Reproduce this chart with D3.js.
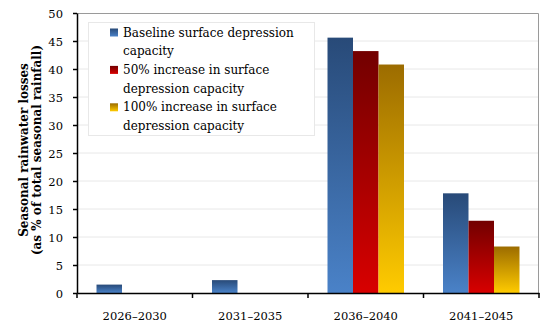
<!DOCTYPE html>
<html>
<head>
<meta charset="utf-8">
<script src="https://cdn.jsdelivr.net/npm/d3@7"></script>
<style>
  body { margin: 0; background: #fff; }
  svg text { font-family: "DejaVu Serif", "Liberation Serif", serif; }
</style>
</head>
<body>
<div id="chart"></div>
<script>
'use strict';

// data
const periods = ['2026–2030', '2031–2035', '2036–2040', '2041–2045'];
const seriesNames = [
  'Baseline surface depression capacity',
  '50% increase in surface depression capacity',
  '100% increase in surface depression capacity'
];
const baseline = [1.5, 2.3, 45.6, 17.8];
const increase50 = [0, 0, 43.2, 12.9];
const increase100 = [0, 0, 40.8, 8.3];
const yTicks = [0, 5, 10, 15, 20, 25, 30, 35, 40, 45, 50];

// legend text broken as in the original
const legendLines = [
  ['Baseline surface depression', 'capacity'],
  ['50% increase in surface', 'depression capacity'],
  ['100% increase in surface', 'depression capacity']
];

const W = 550, H = 327;
const margin = {top: 13, right: 11, bottom: 34, left: 77};
const innerW = W - margin.left - margin.right;
const innerH = H - margin.top - margin.bottom;

const svg = d3.select('#chart').append('svg')
    .attr('width', W)
    .attr('height', H);

// gradients (dark top -> bright bottom)
const grads = [
  {id: 'g0', top: '#284a78', bottom: '#4a82c8'},
  {id: 'g1', top: '#720000', bottom: '#d80000'},
  {id: 'g2', top: '#9c6c00', bottom: '#ffcb00'}
];
const defs = svg.append('defs');
grads.forEach((g) => {
  const lg = defs.append('linearGradient')
      .attr('id', g.id)
      .attr('x1', 0).attr('y1', 0).attr('x2', 0).attr('y2', 1);
  lg.append('stop').attr('offset', '0%').attr('stop-color', g.top);
  lg.append('stop').attr('offset', '100%').attr('stop-color', g.bottom);
});

const g = svg.append('g')
    .attr('transform', `translate(${margin.left},${margin.top})`);

const x = d3.scaleBand()
    .domain(periods)
    .range([0, innerW]);

// three bars sit in the middle two thirds of each category
const x1 = d3.scaleBand()
    .domain([0, 1, 2])
    .range([0, x.bandwidth()])
    .paddingInner(0)
    .paddingOuter(0.765);

const y = d3.scaleLinear()
    .domain([0, 50])
    .range([innerH, 0]);

// grid lines
g.append('g')
  .selectAll('line')
  .data(yTicks.filter(d => d > 0 && d < 50))
  .enter().append('line')
    .attr('x1', 0)
    .attr('x2', innerW)
    .attr('y1', d => y(d))
    .attr('y2', d => y(d))
    .attr('stroke', '#e8e8e8')
    .attr('stroke-width', 1);

// frame top & right
g.append('path')
    .attr('d', `M0,0.5H${innerW - 0.5}V${innerH}`)
    .attr('fill', 'none')
    .attr('stroke', '#9a9a9a')
    .attr('stroke-width', 1);

// bars
const series = [baseline, increase50, increase100];
const rows = periods.map((p, i) => series.map((s, k) => ({period: p, k: k, value: s[i]})));

g.append('g')
  .selectAll('g')
  .data(rows)
  .enter().append('g')
    .attr('transform', d => `translate(${x(d[0].period)},0)`)
  .selectAll('rect')
  .data(d => d.filter(v => v.value > 0))
  .enter().append('rect')
    .attr('x', d => x1(d.k))
    .attr('width', x1.bandwidth())
    .attr('y', d => y(d.value))
    .attr('height', d => innerH - y(d.value))
    .attr('fill', d => `url(#${grads[d.k].id})`);

// axes
const yAxis = g.append('g')
    .call(d3.axisLeft(y).tickValues(yTicks).tickSize(4).tickSizeOuter(0));
yAxis.select('.domain').attr('stroke', '#000').attr('stroke-width', 1.5);
yAxis.selectAll('.tick line').attr('stroke', '#000').attr('stroke-width', 1.5);
yAxis.selectAll('text')
    .attr('font-size', 11.5)
    .attr('fill', '#000')
    .attr('x', -14)
    .attr('dy', '0.36em');

const xAxis = g.append('g')
    .attr('transform', `translate(0,${innerH})`)
    .call(d3.axisBottom(x).tickSize(0).tickSizeOuter(0));
xAxis.select('.domain').attr('stroke', '#000').attr('stroke-width', 1.5);
xAxis.selectAll('text')
    .attr('font-size', 11.5)
    .attr('fill', '#000')
    .attr('y', 27)
    .attr('dy', 0);

// category boundary ticks
xAxis.append('g')
  .selectAll('line')
  .data(periods.map(p => x(p)).concat([innerW]))
  .enter().append('line')
    .attr('x1', d => d)
    .attr('x2', d => d)
    .attr('y1', 0)
    .attr('y2', 5)
    .attr('stroke', '#000')
    .attr('stroke-width', 1.5);

// y title
const title = svg.append('text')
    .attr('transform', `translate(0,${margin.top + innerH / 2 - 3}) rotate(-90)`)
    .attr('text-anchor', 'middle')
    .attr('font-size', 12)
    .attr('font-weight', 'bold');
title.append('tspan').attr('x', 0).attr('y', 28).text('Seasonal rainwater losses');
title.append('tspan').attr('x', 0).attr('y', 41).text('(as % of total seasonal rainfall)');

// legend
const legend = svg.append('g').attr('transform', 'translate(88,22)');
legend.append('rect')
    .attr('x', 0.5).attr('y', 0.5)
    .attr('width', 226).attr('height', 113)
    .attr('fill', '#fff')
    .attr('stroke', '#e8e8e8');

const lineH = 18.7;
legendLines.forEach((lines, k) => {
  const base = 14.5 + k * 2 * lineH;
  legend.append('rect')
      .attr('x', 22).attr('y', base - 8)
      .attr('width', 8).attr('height', 8)
      .attr('fill', `url(#${grads[k].id})`);
  lines.forEach((t, j) => {
    legend.append('text')
        .attr('x', 35)
        .attr('y', base + j * lineH)
        .attr('font-size', 12)
        .text(t);
  });
});
</script>
</body>
</html>
